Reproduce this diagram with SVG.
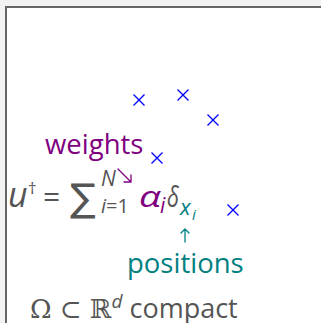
<svg xmlns="http://www.w3.org/2000/svg" width="321" height="323" viewBox="0 0 321 323">
<style>
.t{font-family:"Open Sans","Noto Sans","DejaVu Sans",sans-serif;}
.i{font-style:italic;}
.g{fill:#555555;}
.p{fill:#800080;}
.c{fill:#008080;}
.x{stroke:#0000ff;stroke-width:1.3;fill:none;}
.a{fill:none;stroke-width:1.3;stroke-linecap:round;stroke-linejoin:round;}
</style>
<defs>
<path id="cross" class="x" d="M-5.5,-5.5L5.5,5.5M-5.5,5.5L5.5,-5.5"/>
</defs>
<rect x="0" y="0" width="321" height="323" fill="#f2f2f2"/>
<rect x="6" y="7" width="320" height="320" fill="#ffffff" stroke="#666666" stroke-width="2"/>
<g id="points">
<use href="#cross" x="139" y="100"/>
<use href="#cross" x="183" y="95"/>
<use href="#cross" x="213" y="120"/>
<use href="#cross" x="157" y="158"/>
<use href="#cross" x="233" y="210"/>
</g>
<g id="weights"><text class="t p" x="45" y="154" font-size="27.5">weights</text></g>
<g id="formula">
<text class="t g i" x="8" y="207" font-size="34">u</text>
<text class="t g" x="28" y="194" font-size="17">†</text>
<text class="t g" x="43" y="207" font-size="30">=</text>
<text class="g" x="70" y="211" font-size="38" font-family="DejaVu Sans">∑</text>
<text class="t g i" x="101" y="186" font-size="21">N</text>
<text class="t g" x="101" y="213" font-size="20"><tspan class="i">i</tspan>=1</text>
<text class="t p i" x="139" y="207" font-size="30" textLength="22" lengthAdjust="spacingAndGlyphs">α</text>
<text class="t p i" x="160" y="213" font-size="21">i</text>
<text class="t g i" x="167" y="207" font-size="30" textLength="12" lengthAdjust="spacingAndGlyphs">δ</text>
<text class="t c i" x="180" y="215" font-size="22">x</text>
<text class="t c i" x="192" y="220" font-size="15">i</text>
</g>
<g id="connectors">
<path class="a" stroke="#800080" d="M118,169L131,182M131,175L131,182L124,182"/>
<path class="a" stroke="#008080" d="M185,242L185,229M181,233L185,229L189,233"/>
</g>
<g id="positions"><text class="t c" x="127" y="273" font-size="27.5">positions</text></g>
<g id="domain"><text class="t g" x="30" y="318" font-size="26"><tspan font-family="DejaVu Serif">Ω ⊂ ℝ</tspan><tspan font-size="19" dy="-10" font-style="italic">d</tspan><tspan dy="10" font-size="27"> compact</tspan></text></g>
</svg>
